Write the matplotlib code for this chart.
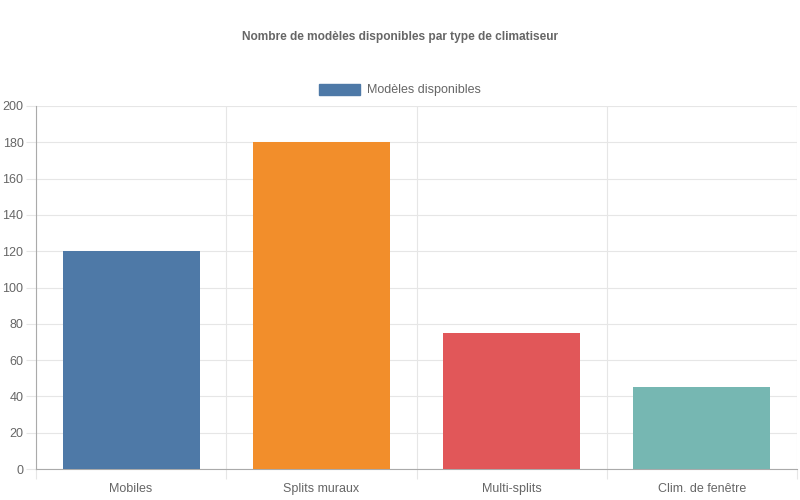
import matplotlib.pyplot as plt
import matplotlib.patches as mpatches
import numpy as np

plt.rcParams['font.family'] = ['Liberation Sans', 'DejaVu Sans']

categories = ['Mobiles', 'Splits muraux', 'Multi-splits', 'Clim. de fenêtre']
values = [120, 180, 75, 45]
colors = ['#4e79a7', '#f28e2b', '#e15759', '#76b7b2']
series_name = 'Modèles disponibles'
title = 'Nombre de modèles disponibles par type de climatiseur'

fig = plt.figure(figsize=(8, 5), dpi=100)
ax = fig.add_axes([0.045, 0.062, 0.95125, 0.726])

x = np.arange(len(categories))
ax.bar(x, values, width=0.72, color=colors, zorder=3)

ax.set_xlim(-0.5, len(categories) - 0.5)
ax.set_ylim(0, 200)
ax.set_yticks(np.arange(0, 201, 20))
ax.set_xticks(x)
ax.set_xticklabels(categories)
ax.set_xticks(np.arange(-0.5, len(categories), 1), minor=True)

grid_c = '#e6e6e6'
ax.grid(axis='y', color=grid_c, linewidth=0.8, zorder=0)
ax.grid(axis='x', which='minor', color=grid_c, linewidth=0.8, zorder=0)
ax.tick_params(axis='x', which='major', length=0, pad=10, labelsize=9, labelcolor='#666666')
ax.tick_params(axis='x', which='minor', length=7.5, color=grid_c, width=0.8)
ax.tick_params(axis='y', length=7, color=grid_c, width=0.8, pad=2, labelsize=9, labelcolor='#666666')

for side in ['top', 'right']:
    ax.spines[side].set_visible(False)
for side in ['left', 'bottom']:
    ax.spines[side].set_color('#aaaaaa')
    ax.spines[side].set_linewidth(0.8)

fig.text(0.5, 0.926, title, ha='center', va='center', fontsize=8.6,
         fontweight='bold', color='#666666')

handle = mpatches.Patch(facecolor=colors[0], edgecolor=colors[0], label=series_name)
fig.legend(handles=[handle], loc='center', bbox_to_anchor=(0.5, 0.82), frameon=False,
           fontsize=9, labelcolor='#666666', handlelength=3.3, handleheight=1.0,
           handletextpad=0.6)

fig.savefig('out.png', dpi=100)
